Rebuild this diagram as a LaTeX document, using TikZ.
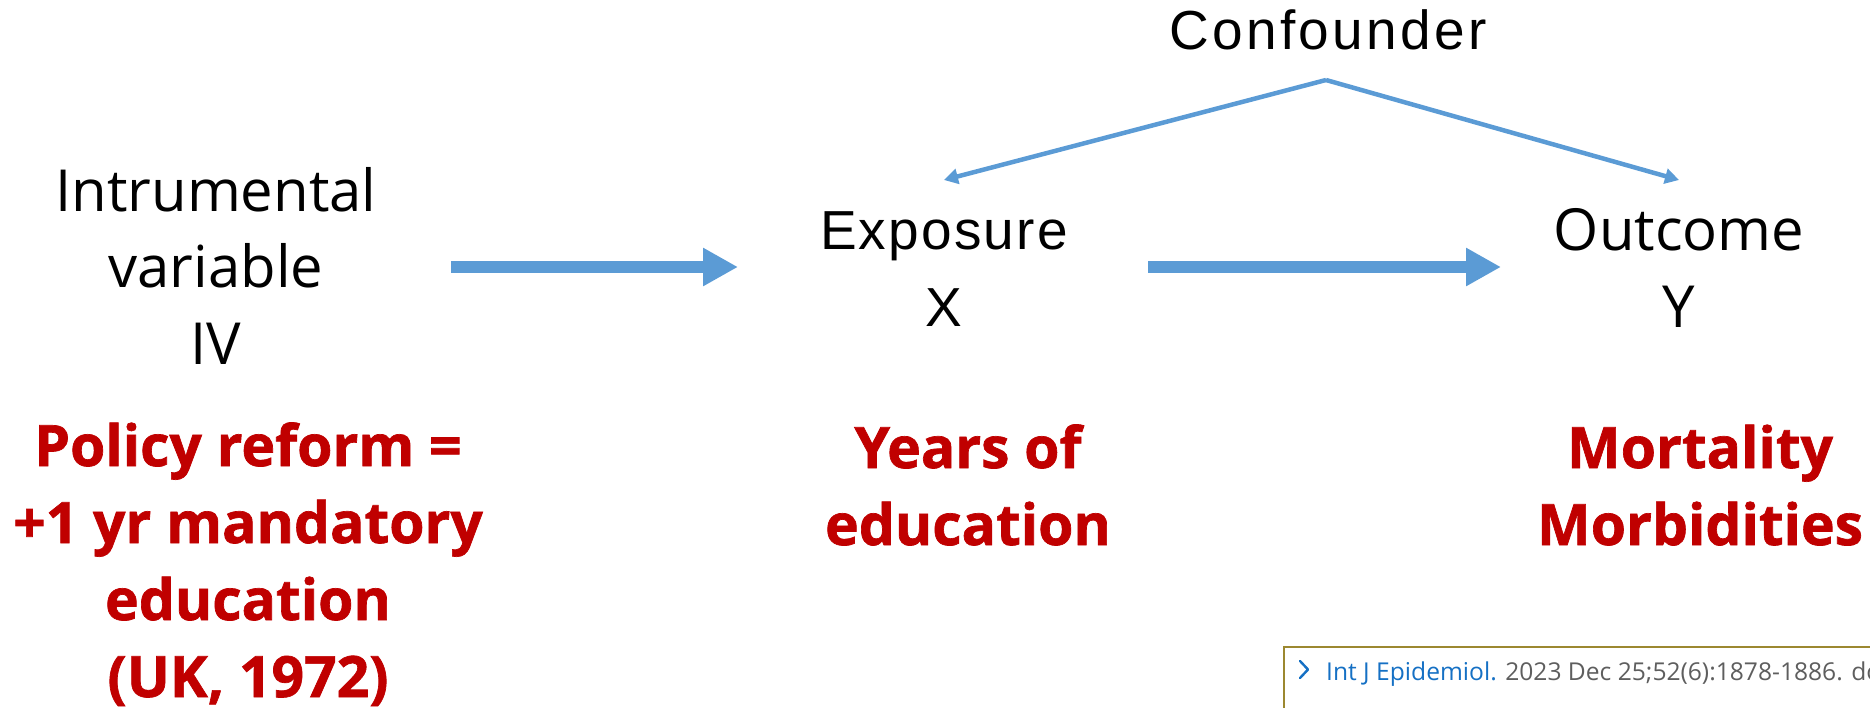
\documentclass[tikz,border=0pt]{standalone}
\usepackage{fontspec}
\setmainfont{Liberation Sans}
\newfontfamily\arialwide{Liberation Sans}[LetterSpace=6]
\newfontfamily\arialmid{Liberation Sans}[LetterSpace=4]
\newfontfamily\aptos{Open Sans}
\newfontfamily\aptosheavy{Open Sans}[BoldFeatures={FakeBold=1.2}]
\usetikzlibrary{arrows.meta}

\definecolor{arrowblue}{HTML}{5B9BD5}
\definecolor{darkred}{HTML}{C00000}
\definecolor{citeblue}{HTML}{1570C4}
\definecolor{citegray}{HTML}{5E5E5E}
\definecolor{boxolive}{HTML}{9C8830}

\tikzset{
  blacklabel/.style={inner sep=0pt, align=center, text=black},
  redlabel/.style={inner sep=0pt, align=center, text=darkred,
    font=\aptosheavy\bfseries\fontsize{57}{77}\selectfont},
  bigarrow/.style={draw=arrowblue, line width=12pt,
    -{Triangle[length=35pt,width=36pt]}},
  thinarrow/.style={draw=arrowblue, line width=4.5pt,
    -{Triangle[length=14pt,width=15pt]}},
}

\begin{document}
\begin{tikzpicture}[x=1pt,y=-1pt]
\useasboundingbox (0,0) rectangle (1870,707);

% causal variables (base anchor = baseline of the last line)
\node[blacklabel, anchor=base, font=\arialwide\fontsize{55}{76}\selectfont]
  (conf) at (1328,49) {Confounder};
\node[blacklabel, anchor=base, font=\aptos\fontsize{58}{76.5}\selectfont]
  (iv) at (216,364) {Intrumental\\variable\\IV};
\node[blacklabel, anchor=base, font=\arialmid\fontsize{55}{77}\selectfont]
  (x) at (944,326) {Exposure\\X};
\node[blacklabel, anchor=base, font=\aptos\fontsize{58}{77}\selectfont]
  (y) at (1679,327) {Outcome\\Y};

% concrete meaning of each variable
\node[redlabel, anchor=base] (ivred) at (248,697)
  {Policy reform =\\+1 yr mandatory\\education\\(UK, 1972)};
\node[redlabel, anchor=base] (xred) at (968,545) {Years of\\education};
\node[redlabel, anchor=base] (yred) at (1700,545) {Mortality\\Morbidities};

% connector end points
\coordinate (ivout) at (451,267);
\coordinate (xin)   at (738,267);
\coordinate (xout)  at (1148,267);
\coordinate (yin)   at (1501,267);
\coordinate (apex)  at (1326,80);
\coordinate (xtop)  at (944,180);
\coordinate (ytop)  at (1679,180);

\draw[bigarrow] (ivout) -- (xin);
\draw[bigarrow] (xout) -- (yin);
\draw[thinarrow] (apex) -- (xtop);
\draw[thinarrow] (apex) -- (ytop);

% reference box, cut off by the page edge
\begin{scope}
  \clip (0,0) rectangle (1870,707);
  \draw[boxolive, line width=2pt] (1284,647) rectangle (1900,740);
  \draw[citeblue, line width=2.4pt, line cap=round, line join=round]
    (1300,661) -- (1308,669.5) -- (1300,678);
  \node[anchor=base west, inner sep=0pt, font=\aptos\fontsize{24.6}{30}\selectfont]
    (cite) at (1326,680)
    {\textcolor{citeblue}{Int J Epidemiol.} \textcolor{citegray}{2023 Dec 25;52(6):1878-1886. do}};
\end{scope}
\end{tikzpicture}
\end{document}
